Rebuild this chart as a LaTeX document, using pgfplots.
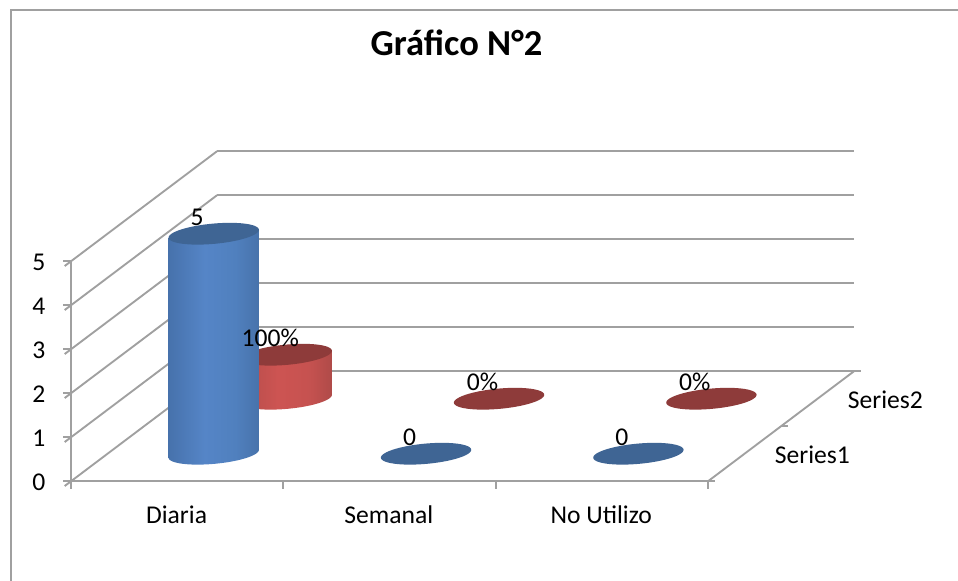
\documentclass[border=0pt]{standalone}
\usepackage{fontspec}
\usepackage{pgfplots}
\pgfplotsset{compat=1.18}
\setmainfont{Carlito}
\definecolor{gridgray}{HTML}{A0A0A0}
\definecolor{topblue}{HTML}{3F6594}
\definecolor{topred}{HTML}{8E3B3A}
\definecolor{cb1}{HTML}{345A87}\definecolor{cb2}{HTML}{436DA5}\definecolor{cb3}{HTML}{5585C7}\definecolor{cb3b}{HTML}{5080BE}\definecolor{cb4}{HTML}{41689C}\definecolor{cb5}{HTML}{2B4670}
\definecolor{cr1}{HTML}{853C3A}\definecolor{cr2}{HTML}{AE4B49}\definecolor{cr3}{HTML}{CD5452}\definecolor{cr3b}{HTML}{C65250}\definecolor{cr4}{HTML}{9E4543}\definecolor{cr5}{HTML}{672D2C}
\pgfdeclarehorizontalshading{cylblue}{100bp}{
 color(0bp)=(cb1); color(20bp)=(cb2); color(45bp)=(cb3); color(62bp)=(cb3b); color(85bp)=(cb4); color(100bp)=(cb5)}
\pgfdeclarehorizontalshading{cylred}{100bp}{
 color(0bp)=(cr1); color(20bp)=(cr2); color(45bp)=(cr3); color(62bp)=(cr3b); color(85bp)=(cr4); color(100bp)=(cr5)}
\newcommand\cylmark[2]{%
  \pgfmathsetlengthmacro\cylh{\barval*33pt}%
  \ifdim\cylh>0.01pt
    \shade[shading=#1,fill=none,draw=none]
      (-33.86pt,{-3.08pt-\cylh})
      \foreach \ang in {185,190,...,360}{
        -- ({34pt*cos(\ang)*0.9959-7.6pt*sin(\ang)*0.0906},{34pt*cos(\ang)*0.0906+7.6pt*sin(\ang)*0.9959-\cylh})}
      -- (33.86pt,3.08pt) -- (-33.86pt,-3.08pt) -- cycle;
  \fi
  \fill[#2,draw=none] (33.86pt,3.08pt)
      \foreach \ang in {5,10,...,355}{
        -- ({34pt*cos(\ang)*0.9959-7.6pt*sin(\ang)*0.0906},{34pt*cos(\ang)*0.0906+7.6pt*sin(\ang)*0.9959})}
      -- cycle;%
}
\pgfdeclareplotmark{cylb}{\cylmark{cylblue}{topblue}}
\pgfdeclareplotmark{cylr}{\cylmark{cylred}{topred}}
\begin{document}
\begin{tikzpicture}[x=0.75pt,y=0.75pt]
\path[use as bounding box,fill=white] (0,0) rectangle (958,581);
\draw[gridgray,line width=1.4pt] (11,0) -- (11,571) -- (958,571);
\node[anchor=base,font=\bfseries\fontsize{27.4}{32}\selectfont] at (456.5,525) {Gráfico N°2};
\begin{axis}[
  at={(-28.9,181.4)},anchor=origin,
  x={(159.25pt,0pt)},y={(54.75pt,41.25pt)},z={(0pt,33pt)},
  xmin=0,xmax=3,ymin=0,ymax=2,zmin=0,zmax=5,
  clip=false,
  axis x line*=bottom,axis y line=none,axis z line*=left,
  xtick={0.5,1.5,2.5},xticklabels={Diaria,Semanal,No Utilizo},
  ztick={0,1,2,3,4,5},
  minor ztick={0,1,2,3,4,5},
  major tick length=0pt,minor tick length=6pt,
  tick align=outside,
  tick style={gridgray,line width=1.4pt},
  axis line style={gridgray,line width=1.4pt},
  zmajorgrids,
  major grid style={gridgray,line width=1.4pt},
  /pgf/number format/assume math mode=true,
  tick label style={font=\fontsize{19.2}{23}\selectfont,black},
  xticklabel style={xshift=4.6pt,yshift=-15.2pt},
  zticklabel style={xshift=-15.75pt,yshift=2.2pt},
  visualization depends on={z \as \barval},
]
\pgfplotsinvokeforeach{0,1,2,3}{\addplot3[gridgray,line width=1.4pt,no marks] coordinates {(#1,0,0) (#1,0,-0.17)};}
\addplot3[gridgray,line width=1.4pt,no marks] coordinates {(3,0,0) (3,2,0)};
\pgfplotsinvokeforeach{0,1,2}{\addplot3[gridgray,line width=1.4pt,no marks] coordinates {(3,#1,0) (3.035,#1,0)};}
\addplot3[scatter,only marks,scatter src=z,mark=cylr] coordinates {(0.5,1.5,1) (1.5,1.5,0) (2.5,1.5,0)};
\addplot3[scatter,only marks,scatter src=z,mark=cylb] coordinates {(0.5,0.5,5) (1.5,0.5,0) (2.5,0.5,0)};
\addplot3[only marks,mark=none,nodes near coords,point meta=explicit symbolic,
  nodes near coords style={anchor=base,xshift=-12.4pt,yshift=6pt,font=\fontsize{19.2}{23}\selectfont,black}]
  coordinates {(0.5,1.5,1) [100\%] (1.5,1.5,0) [0\%] (2.5,1.5,0) [0\%] (0.5,0.5,5) [5] (1.5,0.5,0) [0] (2.5,0.5,0) [0]};
\node[anchor=base west,font=\fontsize{19.2}{23}\selectfont,xshift=22.5pt,yshift=-7pt,inner sep=0pt] at (axis cs:3,0.5,0) {Series1};
\node[anchor=base west,font=\fontsize{19.2}{23}\selectfont,xshift=22.5pt,yshift=-7pt,inner sep=0pt] at (axis cs:3,1.5,0) {Series2};
\end{axis}
\end{tikzpicture}
\end{document}
